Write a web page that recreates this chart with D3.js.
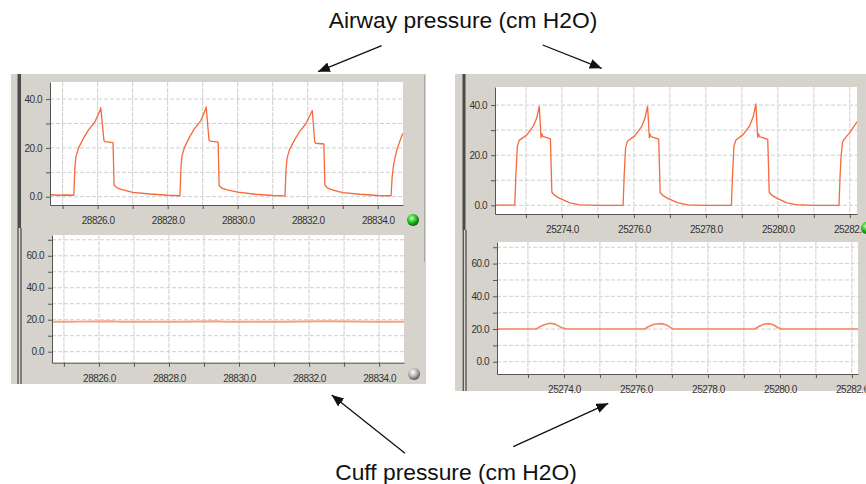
<!DOCTYPE html>
<html>
<head>
<meta charset="utf-8">
<script src="https://cdn.jsdelivr.net/npm/d3@7"></script>
<style>
  body { margin: 0; background: #fff; }
  svg { display: block; font-family: "Liberation Sans", Arial, sans-serif; }
  .tick text { font-size: 10px; letter-spacing: -0.5px; fill: #333; }
  .axis path, .axis line { stroke: #555; }
</style>
</head>
<body>
<div id="chart"></div>
<script>
// DATA (time in s, pressure in cm H2O)
var leftAirway = [
  [28824.64, 0.8], [28824.9, 0.6], [28825.1, 0.7], [28825.32, 0.6],
  [28825.35, 11.7], [28825.38, 16.3], [28825.45, 19.8], [28825.59, 23.8], [28825.73, 27.2], [28825.92, 30.6], [28826.07, 35.4], [28826.09, 36.5],
  [28826.18, 23.1], [28826.21, 22.6], [28826.44, 22.2], [28826.47, 4.8], [28826.55, 3.6], [28826.7, 2.9], [28827.0, 1.8], [28827.5, 1.1], [28828.0, 0.6], [28828.35, 0.4],
  [28828.38, 12.0], [28828.41, 16.8], [28828.48, 20.2], [28828.62, 24.3], [28828.76, 27.8], [28828.95, 31.2], [28829.08, 35.8], [28829.1, 36.8],
  [28829.18, 23.3], [28829.21, 22.8], [28829.44, 22.4], [28829.47, 4.6], [28829.55, 3.5], [28829.7, 2.8], [28830.0, 1.9], [28830.5, 1.0], [28831.0, 0.5], [28831.35, 0.3],
  [28831.38, 11.2], [28831.41, 15.8], [28831.48, 19.3], [28831.62, 23.2], [28831.76, 26.6], [28831.95, 30.0], [28832.1, 34.4], [28832.13, 35.3],
  [28832.2, 22.4], [28832.23, 21.9], [28832.46, 21.6], [28832.49, 4.7], [28832.57, 3.5], [28832.72, 2.7], [28833.0, 1.7], [28833.5, 1.0], [28834.0, 0.5], [28834.38, 0.4],
  [28834.41, 8.0], [28834.45, 13.0], [28834.54, 19.0], [28834.69, 25.2], [28834.72, 26.0]
];
var leftCuff = [
  [28824.66, 18.8], [28825.25, 18.7], [28825.4, 18.8], [28826.35, 19.1], [28826.55, 18.8], [28828.4, 18.7],
  [28829.35, 19.1], [28829.55, 18.8], [28831.25, 18.7], [28832.5, 19.0], [28833.9, 18.7], [28834.71, 18.8]
];
var rightAirway = [
  [25272.14, 0.1], [25272.5, 0.1], [25272.69, 0.1],
  [25272.72, 12.0], [25272.76, 23.3], [25272.81, 25.9], [25273.02, 28.0], [25273.2, 31.5], [25273.3, 34.8], [25273.37, 39.5],
  [25273.42, 27.0], [25273.44, 28.6], [25273.47, 27.5], [25273.68, 26.5], [25273.72, 5.2], [25273.8, 4.0], [25273.94, 2.8], [25274.22, 1.0], [25274.5, 0.2], [25275.0, 0.0], [25275.7, 0.0],
  [25275.73, 12.0], [25275.77, 23.0], [25275.82, 25.6], [25276.03, 27.8], [25276.21, 31.3], [25276.31, 34.9], [25276.38, 39.5],
  [25276.43, 27.0], [25276.45, 28.4], [25276.48, 27.4], [25276.69, 26.4], [25276.73, 5.0], [25276.81, 3.9], [25276.95, 2.7], [25277.23, 1.0], [25277.5, 0.2], [25278.0, 0.0], [25278.71, 0.0],
  [25278.74, 12.0], [25278.78, 23.5], [25278.83, 26.0], [25279.04, 28.3], [25279.22, 31.8], [25279.32, 35.5], [25279.39, 40.5],
  [25279.44, 27.2], [25279.46, 28.6], [25279.49, 27.4], [25279.72, 26.3], [25279.76, 5.2], [25279.84, 4.0], [25279.98, 2.8], [25280.26, 1.0], [25280.5, 0.3], [25281.0, 0.0], [25281.7, 0.0],
  [25281.73, 12.0], [25281.76, 20.0], [25281.8, 25.2], [25281.85, 26.5], [25282.0, 29.0], [25282.2, 33.3]
];
var rightCuff = [
  [25272.14, 20], [25273.24, 20], [25273.33, 21.4], [25273.47, 22.8], [25273.61, 23.5], [25273.75, 23.0], [25273.94, 20.8], [25274.07, 20],
  [25276.25, 20], [25276.34, 21.4], [25276.5, 22.9], [25276.71, 23.3], [25276.85, 22.5], [25276.96, 20.8], [25277.04, 20],
  [25279.31, 20], [25279.4, 21.4], [25279.55, 22.9], [25279.68, 23.3], [25279.82, 22.6], [25279.95, 20.8], [25280.05, 20], [25282.17, 20]
];
var topTitle = "Airway pressure (cm H2O)";
var bottomTitle = "Cuff pressure (cm H2O)";

var svg = d3.select("#chart")
  .append("svg")
  .attr("width", 866)
  .attr("height", 484);

var defs = svg.append("defs");

// ball gradients
function ballGradient(id, light, mid, dark) {
  var g = defs.append("radialGradient").attr("id", id)
    .attr("cx", "40%").attr("cy", "35%").attr("r", "65%");
  g.append("stop").attr("offset", "0%").attr("stop-color", light);
  g.append("stop").attr("offset", "55%").attr("stop-color", mid);
  g.append("stop").attr("offset", "100%").attr("stop-color", dark);
}
ballGradient("green", "#c8ffb0", "#22c41e", "#0b5e0b");
ballGradient("grey", "#ffffff", "#b4b4b4", "#555555");

defs.append("marker")
  .attr("id", "head")
  .attr("viewBox", "0 0 12 10")
  .attr("refX", 12).attr("refY", 5)
  .attr("markerWidth", 12).attr("markerHeight", 10)
  .attr("markerUnits", "userSpaceOnUse")
  .attr("orient", "auto")
  .append("path")
  .attr("d", "M0,0L12,5L0,10Z")
  .attr("fill", "#111");

// GREY MONITOR PANELS
svg.append("rect").attr("x", 11).attr("y", 74).attr("width", 415).attr("height", 310).attr("fill", "#d6d3cd");
svg.append("rect").attr("x", 455).attr("y", 74).attr("width", 420).attr("height", 317).attr("fill", "#d6d3cd");

// dark bars at left edge of each panel
svg.append("rect").attr("x", 17.5).attr("y", 74).attr("width", 3.5).attr("height", 154).attr("fill", "#4a4a4a");
svg.append("line").attr("x1", 18).attr("x2", 18).attr("y1", 228).attr("y2", 384).attr("stroke", "#5a5a5a").attr("stroke-width", 1.4);
svg.append("line").attr("x1", 21).attr("x2", 21).attr("y1", 228).attr("y2", 384).attr("stroke", "#5a5a5a").attr("stroke-width", 1.4);
svg.append("rect").attr("x", 462.5).attr("y", 74).attr("width", 3).attr("height", 156).attr("fill", "#4a4a4a");
svg.append("line").attr("x1", 463.3).attr("x2", 463.3).attr("y1", 230).attr("y2", 391).attr("stroke", "#5a5a5a").attr("stroke-width", 1.4);
svg.append("line").attr("x1", 466).attr("x2", 466).attr("y1", 230).attr("y2", 391).attr("stroke", "#5a5a5a").attr("stroke-width", 1.4);
svg.append("line").attr("x1", 424.5).attr("x2", 424.5).attr("y1", 75).attr("y2", 262).attr("stroke", "#aaa7a0");

var fmt = d3.format(".1f");

function drawChart(id, c, data, colour, width) {
  var x = d3.scaleLinear().domain(c.xDom).range([c.x0, c.x1]);
  var y = d3.scaleLinear().domain(c.yDom).range([c.yAxis, c.yTop]);
  var g = svg.append("g").attr("class", "chart");

  g.append("rect")
    .attr("x", c.x0).attr("y", c.yTop)
    .attr("width", c.x1 - c.x0).attr("height", c.yAxis - c.yTop)
    .attr("fill", "#fff");

  var xt = d3.range(Math.ceil(c.xDom[0]), c.xDom[1], 1);
  var yt = d3.range(Math.ceil(c.yDom[0] / 10) * 10, c.yDom[1], 10);

  // grid
  g.selectAll("line.vg").data(xt).enter().append("line")
    .attr("x1", function(d) { return x(d); }).attr("x2", function(d) { return x(d); })
    .attr("y1", c.yTop).attr("y2", c.yAxis)
    .attr("stroke", "#cfcfcf").attr("stroke-dasharray", "5,1");
  g.selectAll("line.hg").data(yt).enter().append("line")
    .attr("x1", c.x0).attr("x2", c.x1)
    .attr("y1", function(d) { return y(d); }).attr("y2", function(d) { return y(d); })
    .attr("stroke", "#cfcfcf").attr("stroke-dasharray", "4,2");

  // trace
  defs.append("clipPath").attr("id", id)
    .append("rect").attr("x", c.x0).attr("y", c.yTop)
    .attr("width", c.x1 - c.x0).attr("height", c.yAxis - c.yTop);
  g.append("path")
    .datum(data)
    .attr("clip-path", "url(#" + id + ")")
    .attr("fill", "none")
    .attr("stroke", colour)
    .attr("stroke-width", width)
    .attr("stroke-linejoin", "round")
    .attr("d", d3.line().x(function(d) { return x(d[0]); }).y(function(d) { return y(d[1]); }));

  // axes
  g.append("g")
    .attr("class", "axis")
    .attr("transform", "translate(0," + c.yAxis + ")")
    .call(d3.axisBottom(x).tickValues(xt).tickSize(4).tickSizeOuter(0).tickPadding(8)
      .tickFormat(function(d) { return d % 2 === 0 ? fmt(d) : ""; }));
  g.append("g")
    .attr("class", "axis")
    .attr("transform", "translate(" + c.x0 + ",0)")
    .call(d3.axisLeft(y).tickValues(yt).tickSize(4).tickSizeOuter(0).tickPadding(4)
      .tickFormat(function(d) { return d % 20 === 0 ? fmt(d) : ""; }));
}

drawChart("lt", {x0: 50, x1: 403, yTop: 82, yAxis: 205, xDom: [28824.64, 28834.72], yDom: [-3.4, 47]}, leftAirway, "#f5693a", 1.3);
drawChart("lb", {x0: 52, x1: 404, yTop: 235, yAxis: 362.7, xDom: [28824.66, 28834.71], yDom: [-6.9, 73]}, leftCuff, "#f7a080", 2);
drawChart("rt", {x0: 495, x1: 857, yTop: 87, yAxis: 214, xDom: [25272.14, 25282.2], yDom: [-3.45, 47.2]}, rightAirway, "#f5693a", 1.3);
drawChart("rb", {x0: 497, x1: 858, yTop: 242, yAxis: 374, xDom: [25272.14, 25282.17], yDom: [-7.5, 73.2]}, rightCuff, "#f58560", 1.6);

// status balls
[[413, 220, "green"], [414, 374, "grey"], [867, 228, "green"], [871, 387, "grey"]].forEach(function(b) {
  svg.append("circle").attr("cx", b[0]).attr("cy", b[1]).attr("r", 6).attr("fill", "url(#" + b[2] + ")");
});

// TITLES AND ARROWS
svg.append("text").attr("x", 463).attr("y", 28).attr("text-anchor", "middle")
  .style("font-size", "22.8px").attr("fill", "#111").text(topTitle);
svg.append("text").attr("x", 456).attr("y", 480).attr("text-anchor", "middle")
  .style("font-size", "22.8px").attr("fill", "#111").text(bottomTitle);

[[381.7, 45.7, 318, 71.7], [542.7, 45, 601.7, 68.3], [405, 453.3, 331.7, 395], [513.3, 446.7, 608.3, 403.3]].forEach(function(a) {
  svg.append("line")
    .attr("x1", a[0]).attr("y1", a[1]).attr("x2", a[2]).attr("y2", a[3])
    .attr("stroke", "#111").attr("stroke-width", 1.3)
    .attr("marker-end", "url(#head)");
});
</script>
</body>
</html>
